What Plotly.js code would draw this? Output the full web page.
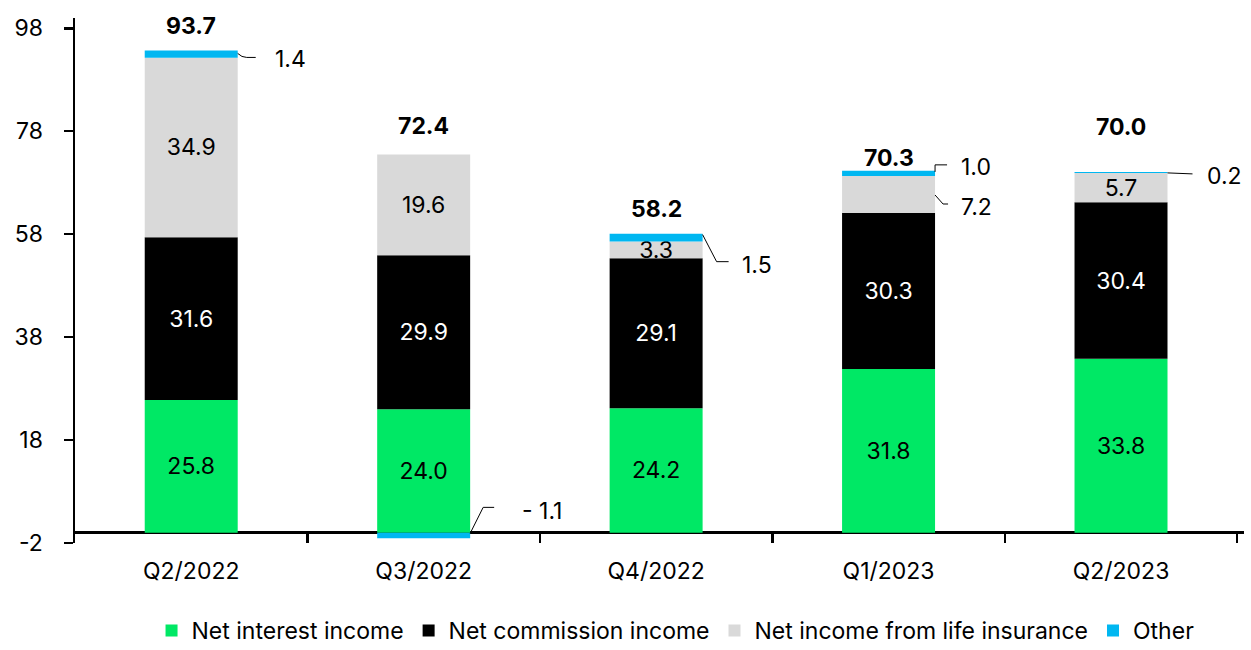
<!DOCTYPE html>
<html>
<head>
<meta charset="utf-8">
<script src="https://cdn.plot.ly/plotly-3.0.1.min.js"></script>
<style>
  html, body { margin: 0; padding: 0; background: #fff; }
  #chart { width: 1251px; height: 650px; }
</style>
</head>
<body>
<div id="chart"></div>
<script>
// Quarterly income breakdown
const quarters = ['Q2/2022', 'Q3/2022', 'Q4/2022', 'Q1/2023', 'Q2/2023'];
const netInterest = [25.8, 24.0, 24.2, 31.8, 33.8];
const netCommission = [31.6, 29.9, 29.1, 30.3, 30.4];
const lifeInsurance = [34.9, 19.6, 3.3, 7.2, 5.7];
const other = [1.4, -1.1, 1.5, 1.0, 0.2];
const totals = [93.7, 72.4, 58.2, 70.3, 70.0];

const yTicks = [-2, 18, 38, 58, 78, 98];

// colors
const colors = {
  interest: '#00E865',
  commission: '#000000',
  life: '#D9D9D9',
  other: '#00B7F1'
};

const FONT = 'Inter, "Noto Sans", Arial, sans-serif';
const FS = 23;
const fmt = v => v.toFixed(1);

// life insurance values shown with a callout instead of inside the bar
const lifeCallout = [false, false, false, true, false];

const baseBar = {
  type: 'bar',
  x: quarters,
  textposition: 'inside',
  insidetextanchor: 'middle',
  constraintext: 'none',
  textangle: 0,
  insidetextfont: { family: FONT, size: FS, color: '#000' },
  hoverinfo: 'skip'
};

const traces = [
  { ...baseBar, name: 'Net interest income', y: netInterest,
    text: netInterest.map(fmt), marker: { color: colors.interest } },
  { ...baseBar, name: 'Net commission income', y: netCommission,
    text: netCommission.map(fmt), marker: { color: colors.commission },
    insidetextfont: { family: FONT, size: FS, color: '#fff' } },
  { ...baseBar, name: 'Net income from life insurance', y: lifeInsurance,
    text: lifeInsurance.map((v, i) => lifeCallout[i] ? '' : fmt(v)),
    marker: { color: colors.life } },
  { ...baseBar, name: 'Other', y: other, text: other.map(() => ''),
    marker: { color: colors.other } }
];

// stack tops, used to anchor labels
const stackTop = quarters.map((_, i) =>
  netInterest[i] + netCommission[i] + lifeInsurance[i] + Math.max(other[i], 0));
const lifeTop = quarters.map((_, i) => netInterest[i] + netCommission[i] + lifeInsurance[i]);

// totals above bars (vertical offsets in px, hand placed like the original)
const totalShift = [24, 34, 24, 13, 45];
const annotations = totals.map((t, i) => ({
  x: quarters[i], y: t, xref: 'x', yref: 'y',
  text: '<b>' + fmt(t) + '</b>', showarrow: false,
  yanchor: 'middle', yshift: totalShift[i],
  font: { family: FONT, size: FS, color: '#000' }
}));

// callouts for small segments: [category index, anchor value, label, leader path (px), text dx, text dy]
const callouts = [
  [0, stackTop[0], fmt(other[0]), 'M0,-3 Q4,-7 9,-7 L18,-7', 53, -9],
  [1, other[1], '- ' + fmt(Math.abs(other[1])), 'M0,5 L13,31 L24,31', 72, 27],
  [2, stackTop[2], fmt(other[2]), 'M0,-1 L14,-28 L26,-28', 54, -31],
  [3, stackTop[3], fmt(other[3]), 'M0,-1 L0,6 L12,6', 41, 4],
  [3, lifeTop[3], fmt(lifeInsurance[3]), 'M0,-19 L8,-28 L13,-28', 41, -31],
  [4, stackTop[4], fmt(other[4]), 'M0,-1 L25,-2', 57, -4]
];

const shapes = [];
callouts.forEach(([ci, yv, label, path, dx, dy]) => {
  shapes.push({
    type: 'path', xref: 'x', yref: 'y',
    xsizemode: 'pixel', ysizemode: 'pixel',
    xanchor: ci + 0.2, yanchor: yv,
    path: path,
    line: { color: '#000', width: 1 }
  });
  annotations.push({
    x: ci + 0.2, y: yv, xref: 'x', yref: 'y',
    text: label, showarrow: false,
    xanchor: 'center', yanchor: 'middle',
    xshift: dx, yshift: dy,
    font: { family: FONT, size: FS, color: '#000' }
  });
});

const layout = {
  width: 1251,
  height: 650,
  barmode: 'relative',
  bargap: 0.6,
  paper_bgcolor: '#fff',
  plot_bgcolor: '#fff',
  font: { family: FONT, size: FS, color: '#000' },
  margin: { l: 75, r: 7, t: 18, b: 107, autoexpand: false },
  showlegend: true,
  legend: {
    orientation: 'h',
    x: 0.54, xanchor: 'center', xref: 'container',
    y: 0.03, yanchor: 'middle', yref: 'container',
    font: { family: FONT, size: FS, color: '#000' },
    itemclick: false
  },
  xaxis: {
    type: 'category',
    showline: false,
    showgrid: false,
    ticks: 'inside',
    tickson: 'boundaries',
    ticklen: 10,
    tickwidth: 2.5,
    tickcolor: '#000',
    ticklabelstandoff: 12,
    tickfont: { family: FONT, size: FS, color: '#000' }
  },
  yaxis: {
    range: [-2, 100],
    tickvals: yTicks,
    ticktext: yTicks.map(String),
    showgrid: false,
    showline: true,
    linecolor: '#000',
    linewidth: 2.5,
    ticks: 'outside',
    ticklen: 9,
    tickwidth: 2.5,
    tickcolor: '#000',
    ticklabelstandoff: 16,
    zeroline: true,
    zerolinecolor: '#000',
    zerolinewidth: 3,
    tickfont: { family: FONT, size: FS, color: '#000' }
  },
  annotations: annotations,
  shapes: shapes
};

Plotly.newPlot('chart', traces, layout, { displayModeBar: false, staticPlot: true });
</script>
</body>
</html>
